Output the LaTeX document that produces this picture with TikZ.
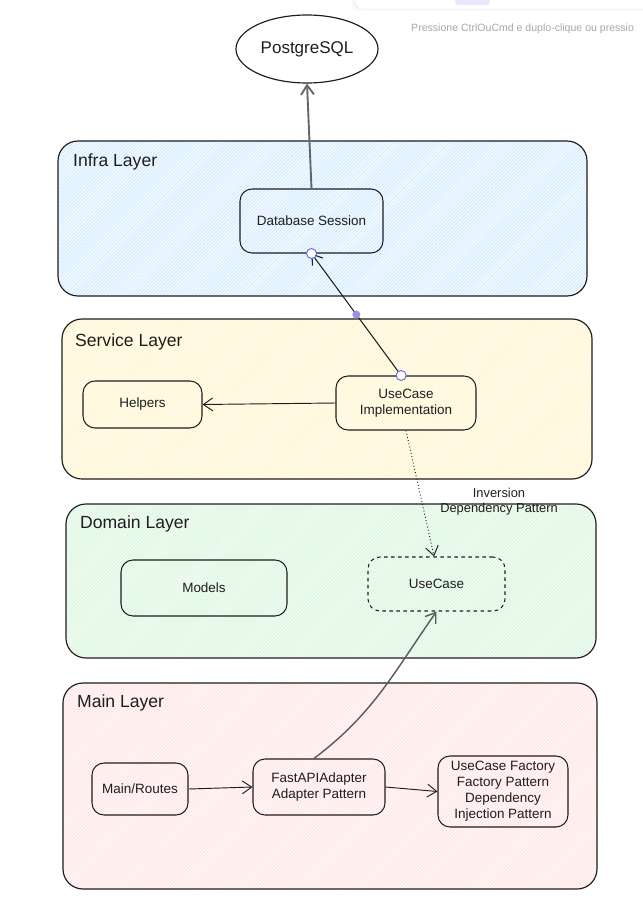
\documentclass[tikz,border=0pt]{standalone}
\usepackage{fontspec}
\setmainfont{Liberation Sans}
\usetikzlibrary{arrows.meta, patterns, shapes.geometric}

\definecolor{ink}{HTML}{1E1E1E}
\definecolor{infrafill}{HTML}{F2F9FF}
\definecolor{infrahatch}{HTML}{C4E5FF}
\definecolor{servicefill}{HTML}{FFFCEE}
\definecolor{servicehatch}{HTML}{FFF2BC}
\definecolor{domainfill}{HTML}{F1FBF2}
\definecolor{domainhatch}{HTML}{CDF6D3}
\definecolor{mainfill}{HTML}{FFF5F5}
\definecolor{mainhatch}{HTML}{FFDDDD}
\definecolor{handle}{HTML}{6965DB}

\tikzset{
    layer/.style={draw=ink, line width=1pt, rounded corners=0.6cm,
        preaction={fill=#1fill}, pattern=north east lines, pattern color=#1hatch},
    layerlabel/.style={anchor=west, font=\fontsize{15}{18}\selectfont, text=ink},
    block/.style={draw=ink, line width=0.9pt, rounded corners=0.36cm,
        align=center, text=ink, font=\fontsize{11.5}{13.6}\selectfont},
    barb/.style={-{Straight Barb[length=8pt,width=11pt]}},
    endcircle/.style={circle, draw=handle, fill=white, line width=0.8pt,
        inner sep=0pt, minimum size=0.3cm},
    middot/.style={circle, fill=handle!70, inner sep=0pt, minimum size=0.24cm},
}

\begin{document}
\begin{tikzpicture}[x=0.03cm, y=-0.03cm]
    \useasboundingbox (0,0) rectangle (643,919);

    % editor hint (top right)
    \fill[gray!5] (352,-10) rectangle (646,11);
    \draw[gray!20, fill=white, rounded corners=0.2cm] (355,-20) rectangle (660,9);
    \fill[handle!15, rounded corners=0.1cm] (455,-10) rectangle (490,5);
    \node (hint) [anchor=west, text=gray!70, font=\fontsize{9}{11}\selectfont, inner sep=0pt]
        at (411,29) {Pressione CtrlOuCmd e duplo-clique ou pressio};

    % layers
    \node (infra) [layer=infra, minimum width=15.87cm, minimum height=4.65cm] at (322.5,218.5) {};
    \node (service) [layer=service, minimum width=15.9cm, minimum height=4.8cm] at (327,399) {};
    \node (domain) [layer=domain, minimum width=15.9cm, minimum height=4.62cm] at (331,581) {};
    \node (mainlayer) [layer=main, minimum width=16.02cm, minimum height=6.18cm] at (330,786) {};

    \node (infralabel) [layerlabel] at (69,162) {Infra Layer};
    \node (servicelabel) [layerlabel] at (71,342) {Service Layer};
    \node (domainlabel) [layerlabel] at (76,524) {Domain Layer};
    \node (mainlabel) [layerlabel] at (73,703) {Main Layer};

    % database
    \node (postgres) [ellipse, draw=ink, line width=1pt, minimum width=4.26cm, minimum height=2.04cm,
        font=\fontsize{14.5}{17}\selectfont, text=ink] at (307,49) {PostgreSQL};

    % blocks
    \node (dbsession) [block, minimum width=4.29cm, minimum height=1.92cm] at (311.5,221) {Database Session};
    \node (helpers) [block, minimum width=3.57cm, minimum height=1.41cm] at (142.5,404.5) {Helpers};
    \node (usecaseimpl) [block, minimum width=4.2cm, minimum height=1.62cm] at (406,403) {UseCase\\Implementation};
    \node (models) [block, minimum width=4.98cm, minimum height=1.68cm] at (204,588) {Models};
    \node (usecase) [block, dashed, minimum width=4.11cm, minimum height=1.62cm] at (436.5,584) {UseCase};
    \node (routes) [block, minimum width=2.88cm, minimum height=1.56cm] at (140,789) {Main/Routes};
    \node (adapter) [block, minimum width=3.96cm, minimum height=1.68cm] at (319,787) {FastAPIAdapter\\Adapter Pattern};
    \node (factory) [block, inner sep=1pt, minimum width=3.9cm, minimum height=2.13cm] at (503,791.5)
        {UseCase Factory\\Factory Pattern\\Dependency\\Injection Pattern};

    % connectors
    \draw[barb, draw=gray!80!black, line width=1.6pt] (dbsession.north) -- (postgres.south);
    \draw[barb, draw=ink, line width=0.9pt] (usecaseimpl.100) -- (dbsession.south)
        node[pos=0.5, middot] {};
    \node[endcircle] at (usecaseimpl.100) {};
    \node[endcircle] at (dbsession.south) {};
    \draw[barb, draw=ink, line width=0.8pt] (usecaseimpl.west) -- (helpers.east);
    \draw[barb, draw=ink, line width=0.8pt, dotted] (usecaseimpl.south) -- (usecase.95);
    \node (dip) [align=center, text=ink, font=\fontsize{11}{13}\selectfont] at (499,502)
        {Inversion\\Dependency Pattern};
    \draw[barb, draw=ink, line width=0.8pt] (routes.east) -- (adapter.west);
    \draw[barb, draw=ink, line width=0.8pt] (adapter.east) -- (factory.west);
    \draw[barb, draw=gray!70!black, line width=1.2pt] (adapter.100) to[out=37, in=-125] (usecase.south);
\end{tikzpicture}
\end{document}
